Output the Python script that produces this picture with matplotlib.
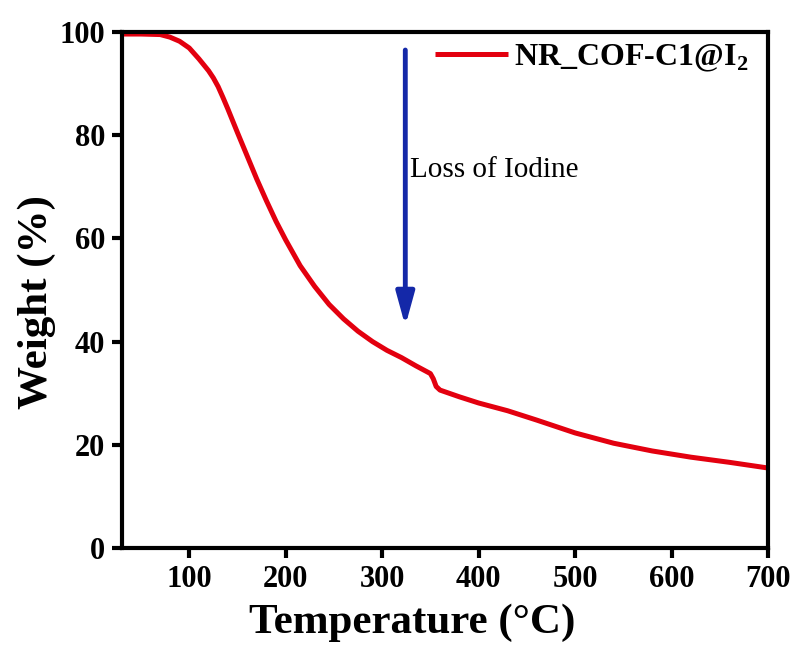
import matplotlib
matplotlib.use("Agg")
import matplotlib.pyplot as plt

# Data
temperature = [30, 50, 70, 80, 90, 100, 110, 120, 125, 130, 135, 140, 150, 160,
               170, 180, 190, 200, 215, 230, 245, 260, 275, 290, 305, 320, 335,
               345, 350, 353, 356, 360, 380, 400, 430, 460, 500, 540, 580, 620,
               660, 700]
weight = [99.6, 99.6, 99.5, 99.0, 98.2, 96.9, 94.8, 92.5, 91.1, 89.4, 87.3, 85.1,
          80.5, 76.0, 71.5, 67.3, 63.3, 59.7, 54.7, 50.7, 47.2, 44.4, 42.0, 40.0,
          38.3, 36.9, 35.3, 34.3, 33.8, 32.8, 31.3, 30.6, 29.3, 28.1, 26.6, 24.8,
          22.3, 20.3, 18.8, 17.6, 16.6, 15.5]
series_label = "NR_COF-C1@I$_\\mathbf{2}$"
x_ticks = [100, 200, 300, 400, 500, 600, 700]
y_ticks = [0, 20, 40, 60, 80, 100]
arrow_x = 324
arrow_from = 96.5
arrow_to = 43.0
annotation = "Loss of Iodine"

plt.rcParams['font.family'] = ['Liberation Serif', 'DejaVu Serif']
plt.rcParams['mathtext.fontset'] = 'custom'
plt.rcParams['mathtext.rm'] = 'Liberation Serif'
plt.rcParams['mathtext.bf'] = 'Liberation Serif:bold'

fig = plt.figure(figsize=(7.97, 6.58), dpi=100)
ax = fig.add_axes([0.1527, 0.1672, 0.8109, 0.7842])

ax.plot(temperature, weight, color='#e3000f', lw=3.6, label=series_label,
        solid_capstyle='butt', solid_joinstyle='round')

ax.set_xlim(30, 700)
ax.set_ylim(0, 100)
ax.set_xticks(x_ticks)
ax.set_yticks(y_ticks)

for s in ax.spines.values():
    s.set_linewidth(3.0)
ax.tick_params(direction='out', length=7, width=3, labelsize=22, pad=5)
for lab in ax.get_xticklabels() + ax.get_yticklabels():
    lab.set_fontweight('bold')

ax.set_xlabel("Temperature (\u00b0C)", fontsize=31, fontweight='bold')
ax.xaxis.set_label_coords(0.449, -0.108)
ax.set_ylabel("Weight (%)", fontsize=31, fontweight='bold')
ax.yaxis.set_label_coords(-0.102, 0.477)

ax.annotate('', xy=(arrow_x, arrow_to), xytext=(arrow_x, arrow_from),
            arrowprops=dict(arrowstyle='-|>,head_length=2.0,head_width=0.55',
                            color='#1428a8', lw=3.5, shrinkA=0, shrinkB=0))
ax.text(arrow_x + 5, 73.3, annotation, fontsize=21, va='center', ha='left')

leg = ax.legend(loc='upper right', frameon=False,
                prop={'weight': 'bold', 'size': 23}, handlelength=2.3,
                handletextpad=0.2, borderaxespad=0.1,
                bbox_to_anchor=(0.995, 1.01))

fig.savefig('out.png', dpi=100, facecolor='white')
